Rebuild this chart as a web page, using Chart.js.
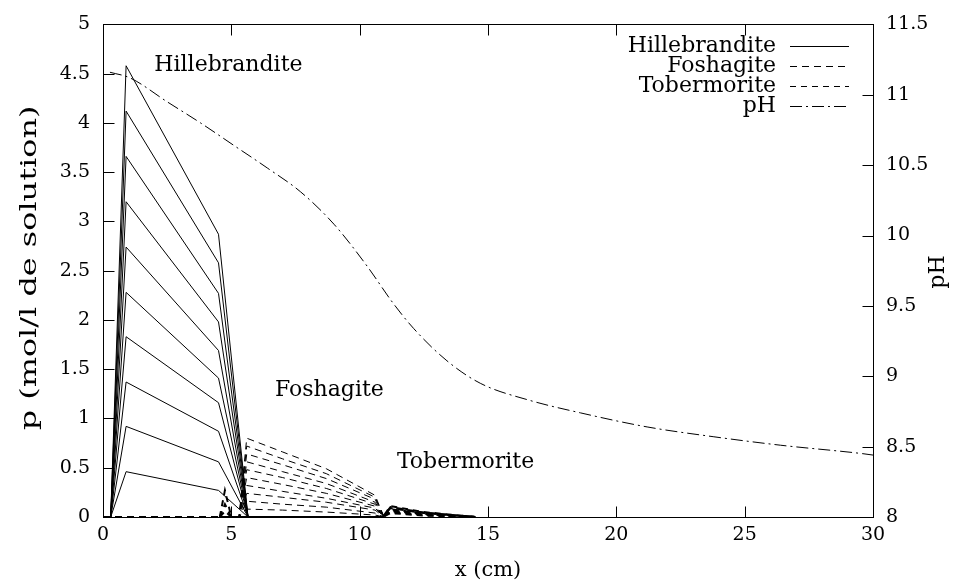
<!DOCTYPE html>
<html>
<head>
<meta charset="utf-8">
<script src="https://cdn.jsdelivr.net/npm/chart.js@4.4.0/dist/chart.umd.min.js"></script>
<style>
  body { margin: 0; background: #fff; }
  #wrap { width: 956px; height: 581px; }
</style>
</head>
<body>
<div id="wrap"><canvas id="chart" width="956" height="581"></canvas></div>
<script>
// x positions (cm) shared by each family of profiles
const hilleX = [0.3, 0.9, 4.5, 5.65];
const hilleCurves = [
    [0, 4.58, 2.87, 0],
    [0, 4.12, 2.58, 0],
    [0, 3.66, 2.27, 0],
    [0, 3.20, 1.98, 0],
    [0, 2.74, 1.69, 0],
    [0, 2.28, 1.41, 0],
    [0, 1.83, 1.16, 0],
    [0, 1.37, 0.87, 0],
    [0, 0.92, 0.56, 0],
    [0, 0.46, 0.27, 0],
];

const fosX = [0, 5.3, 5.6, 7.0, 8.7, 10.6, 10.95];
const fosCurves = [
    [0, 0, 0.80, 0.66, 0.49, 0.22, 0],
    [0, 0, 0.72, 0.59, 0.44, 0.20, 0],
    [0, 0, 0.64, 0.53, 0.39, 0.18, 0],
    [0, 0, 0.56, 0.46, 0.34, 0.15, 0],
    [0, 0, 0.48, 0.40, 0.29, 0.13, 0],
    [0, 0, 0.40, 0.33, 0.24, 0.11, 0],
    [0, 0, 0.32, 0.26, 0.19, 0.09, 0],
    [0, 0, 0.24, 0.20, 0.15, 0.07, 0],
    [0, 0, 0.16, 0.13, 0.10, 0.04, 0],
    [0, 0, 0.08, 0.07, 0.05, 0.02, 0],
];

const toberX = [4.55, 4.75, 5.0, 10.9, 11.2, 12.5, 14.5];
const toberCurves = [
    [0, 0.27, 0, 0, 0.11, 0.05, 0],
    [0, 0.13, 0, 0, 0.10, 0.045, 0],
    [0, 0.06, 0, 0, 0.09, 0.04, 0],
    [0, 0, 0, 0, 0.08, 0.035, 0],
    [0, 0, 0, 0, 0.07, 0.03, 0],
    [0, 0, 0, 0, 0.06, 0.025, 0],
    [0, 0, 0, 0, 0.05, 0.02, 0],
    [0, 0, 0, 0, 0.04, 0.015, 0],
];

const phX = [0.27, 1.05, 2.5, 3.8, 5.1, 6.4, 7.7, 9.0, 10.3, 11.3, 12.1, 13.4, 14.7, 16.6, 18.6, 21.2, 23.8, 26.4, 29.6, 30];
const phY = [11.16, 11.12, 10.95, 10.80, 10.64, 10.48, 10.31, 10.08, 9.78, 9.52, 9.34, 9.11, 8.95, 8.83, 8.74, 8.64, 8.57, 8.51, 8.45, 8.44];

const legendNames = ["Hillebrandite", "Foshagite", "Tobermorite", "pH"];
const zoneLabels = [
    { text: "Hillebrandite", x: 2.0, y: 4.58 },
    { text: "Foshagite", x: 6.7, y: 1.29 },
    { text: "Tobermorite", x: 11.45, y: 0.56 },
];
const xTitle = "x (cm)";
const yTitle = "p (mol/l de solution)";
const y2Title = "pH";

const FONT = "'DejaVu Serif', serif";
const styles = {
    Hillebrandite: { dash: [], width: 1 },
    Foshagite: { dash: [7, 5], width: 1 },
    Tobermorite: { dash: [6, 5], width: 2 },
    pH: { dash: [12, 4, 2, 4], width: 1 },
};

function toPoints(xs, ys) {
    return xs.map((x, i) => ({ x: x, y: ys[i] }));
}

const datasets = [];
hilleCurves.forEach((c) => datasets.push({
    group: "Hillebrandite", data: toPoints(hilleX, c), yAxisID: "y",
    borderColor: "#000", borderWidth: styles.Hillebrandite.width, borderDash: styles.Hillebrandite.dash,
}));
fosCurves.forEach((c) => datasets.push({
    group: "Foshagite", data: toPoints(fosX, c), yAxisID: "y",
    borderColor: "#000", borderWidth: styles.Foshagite.width, borderDash: styles.Foshagite.dash,
}));
toberCurves.forEach((c) => datasets.push({
    group: "Tobermorite", data: toPoints(toberX, c), yAxisID: "y",
    borderColor: "#000", borderWidth: styles.Tobermorite.width, borderDash: styles.Tobermorite.dash,
}));
datasets.push({
    group: "pH", data: toPoints(phX, phY), yAxisID: "y2",
    borderColor: "#000", borderWidth: styles.pH.width, borderDash: styles.pH.dash,
    cubicInterpolationMode: "monotone",
});

// gnuplot-like frame, inward ticks, key, zone labels and axis titles
const decorPlugin = {
    id: "decor",
    afterDraw(chart) {
        const { ctx, chartArea: a, scales } = chart;
        ctx.save();
        ctx.strokeStyle = "#000";
        ctx.lineWidth = 1;
        ctx.setLineDash([]);
        const L = Math.round(a.left) + 0.5, R = Math.round(a.right) + 0.5;
        const T = Math.round(a.top) + 0.5, B = Math.round(a.bottom) + 0.5;
        ctx.strokeRect(L, T, R - L, B - T);

        const tl = 11;
        ctx.beginPath();
        scales.x.ticks.forEach((t) => {
            const px = Math.round(scales.x.getPixelForValue(t.value)) + 0.5;
            ctx.moveTo(px, B); ctx.lineTo(px, B - tl);
            ctx.moveTo(px, T); ctx.lineTo(px, T + tl);
        });
        scales.y.ticks.forEach((t) => {
            const py = Math.round(scales.y.getPixelForValue(t.value)) + 0.5;
            ctx.moveTo(L, py); ctx.lineTo(L + tl, py);
        });
        scales.y2.ticks.forEach((t) => {
            const py = Math.round(scales.y2.getPixelForValue(t.value)) + 0.5;
            ctx.moveTo(R, py); ctx.lineTo(R - tl, py);
        });
        ctx.stroke();

        ctx.fillStyle = "#000";
        ctx.font = "22px " + FONT;
        ctx.textBaseline = "middle";

        // key
        ctx.textAlign = "right";
        legendNames.forEach((name, i) => {
            const y = 46 + i * 20;
            ctx.fillText(name, 776, y);
            ctx.beginPath();
            ctx.setLineDash(styles[name].dash);
            ctx.lineWidth = 1;
            ctx.moveTo(790, y + 0.5);
            ctx.lineTo(849, y + 0.5);
            ctx.stroke();
        });
        ctx.setLineDash([]);

        // zone labels
        ctx.textAlign = "left";
        zoneLabels.forEach((z) => {
            ctx.fillText(z.text, scales.x.getPixelForValue(z.x), scales.y.getPixelForValue(z.y));
        });

        // axis titles
        ctx.textAlign = "center";
        ctx.font = "21px " + FONT;
        ctx.fillText(xTitle, (a.left + a.right) / 2, 571);

        ctx.font = "22px " + FONT;
        ctx.save();
        ctx.translate(30, 268);
        ctx.rotate(-Math.PI / 2);
        ctx.scale(1.45, 1);
        ctx.fillText(yTitle, 0, 0);
        ctx.restore();

        ctx.save();
        ctx.translate(938, 272);
        ctx.rotate(-Math.PI / 2);
        ctx.fillText(y2Title, 0, 0);
        ctx.restore();

        ctx.restore();
    },
};

const tickFont = { family: FONT, size: 19 };
const fmt = (v) => String(+v.toFixed(2));

const chart = new Chart(document.getElementById("chart").getContext("2d"), {
    type: "line",
    data: { datasets: datasets },
    options: {
        responsive: false,
        animation: false,
        layout: { padding: { top: 24, left: 0, right: 0, bottom: 0 } },
        elements: { point: { radius: 0 }, line: { tension: 0 } },
        plugins: { legend: { display: false }, tooltip: { enabled: false } },
        scales: {
            x: {
                type: "linear", min: 0, max: 30,
                grid: { display: false, drawTicks: false }, border: { display: false },
                ticks: { stepSize: 5, color: "#000", font: tickFont, padding: 7, maxRotation: 0, callback: fmt },
                afterFit: (s) => { s.height = 64; },
            },
            y: {
                position: "left", min: 0, max: 5,
                grid: { display: false, drawTicks: false }, border: { display: false },
                ticks: { stepSize: 0.5, color: "#000", font: tickFont, padding: 13, callback: fmt },
                afterFit: (s) => { s.width = 103; },
            },
            y2: {
                position: "right", min: 8, max: 11.5,
                grid: { display: false, drawTicks: false }, border: { display: false },
                ticks: { stepSize: 0.5, color: "#000", font: tickFont, padding: 13, callback: fmt },
                afterFit: (s) => { s.width = 83; },
            },
        },
    },
    plugins: [decorPlugin],
});
</script>
</body>
</html>
